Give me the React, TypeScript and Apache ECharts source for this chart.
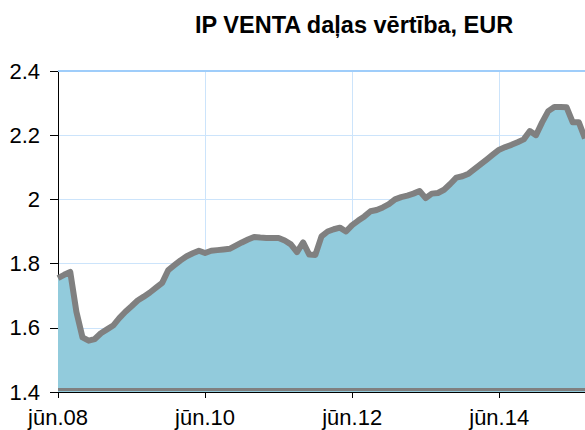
import React, { useEffect, useRef } from "react";
import * as echarts from "echarts";

const monthNames = ["jan", "feb", "mar", "apr", "mai", "jūn", "jūl", "aug", "sep", "okt", "nov", "dec"];
const startYear = 2008;
const startMonth = 5; // jūn

const values = [
  1.755, 1.765, 1.774, 1.65, 1.57, 1.56, 1.565, 1.583, 1.595, 1.607, 1.63, 1.65,
  1.667, 1.685, 1.697, 1.71, 1.725, 1.74, 1.78, 1.795, 1.81, 1.823, 1.832, 1.84,
  1.833, 1.84, 1.842, 1.844, 1.846, 1.856, 1.866, 1.875, 1.883, 1.881, 1.88, 1.88,
  1.88, 1.872, 1.86, 1.836, 1.866, 1.828, 1.827, 1.885, 1.9, 1.907, 1.912, 1.9,
  1.92, 1.934, 1.947, 1.963, 1.967, 1.975, 1.985, 2.0, 2.007, 2.012, 2.018, 2.026,
  2.004, 2.018, 2.02, 2.03, 2.048, 2.068, 2.072, 2.08, 2.095, 2.11, 2.125, 2.14,
  2.155, 2.163, 2.17, 2.178, 2.187, 2.213, 2.2, 2.24, 2.275, 2.288, 2.288, 2.287,
  2.24, 2.24, 2.19,
];

const categories = values.map((_, i) => {
  const m = startMonth + i;
  const y = startYear + Math.floor(m / 12);
  return monthNames[m % 12] + "." + String(y % 100).padStart(2, "0");
});

const titleText = "IP VENTA daļas vērtība, EUR";
const yMin = 1.4;
const yMax = 2.4;
const yStep = 0.2;
const labelEvery = 24;

export default function App() {
  const ref = useRef<HTMLDivElement>(null);
  useEffect(() => {
    document.body.style.margin = "0";
    const chart = echarts.init(ref.current!, null, { renderer: "svg" });
    const font = "Liberation Sans";
    chart.setOption({
      animation: false,
      backgroundColor: "#ffffff",
      title: {
        text: titleText,
        left: 190,
        top: 8,
        textStyle: { fontFamily: font, fontSize: 23.5, fontWeight: "bold", color: "#000" },
      },
      grid: { left: 58, right: 0, top: 71, bottom: 38, containLabel: false },
      xAxis: {
        type: "category",
        data: categories,
        boundaryGap: false,
        axisLine: { show: true, lineStyle: { color: "#000", width: 1 } },
        axisTick: {
          show: true,
          length: 6,
          interval: (i: number) => i % labelEvery === 0,
          lineStyle: { color: "#000" },
        },
        axisLabel: {
          interval: (i: number) => i % labelEvery === 0,
          fontFamily: font,
          fontSize: 22,
          color: "#000",
          margin: 14,
        },
        splitLine: {
          show: true,
          interval: (i: number) => i % labelEvery === 0 && i > 0,
          lineStyle: { color: "#cce4fb", width: 1 },
        },
      },
      yAxis: {
        type: "value",
        min: yMin,
        max: yMax,
        interval: yStep,
        axisLine: { show: true, lineStyle: { color: "#000", width: 1 } },
        axisTick: { show: true, length: 8, lineStyle: { color: "#000" } },
        axisLabel: {
          fontFamily: font,
          fontSize: 22,
          color: "#000",
          margin: 18,
        },
        splitLine: {
          show: true,
          lineStyle: { color: "#cce4fb", width: 1 },
        },
      },
      series: [
        {
          type: "line",
          data: values,
          symbol: "none",
          lineStyle: { color: "#808080", width: 6, join: "round" },
          areaStyle: { color: "#92cbdc", opacity: 1, origin: "start" },
          z: 2,
          markLine: {
            silent: true,
            symbol: "none",
            label: { show: false },
            lineStyle: { color: "#808080", width: 3, type: "solid" },
            data: [
              { yAxis: 1.406 },
              { yAxis: yMax, lineStyle: { color: "#9fcdfa", width: 2, type: "solid" } },
            ],
          },
        },
      ],
    });
    return () => chart.dispose();
  }, []);
  return <div ref={ref} style={{ width: 585, height: 430 }} />;
}
